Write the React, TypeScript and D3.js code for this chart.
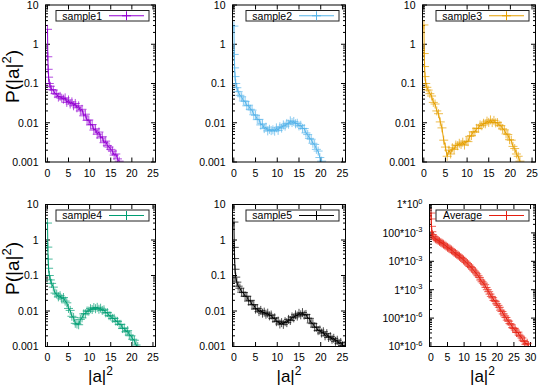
import React from "react";
import * as d3 from "d3";

// |a|^2 bin centres shared by every panel
const grid = [
  0.03, 0.1, 0.18, 0.28, 0.45, 0.7, 1.0, 1.4, 1.8, 2.2, 2.6, 3.0, 3.4, 3.8, 4.2, 4.6,
  5.0, 5.4, 5.8, 6.2, 6.6, 7.0, 7.4, 7.8, 8.2, 8.6, 9.0, 9.4, 9.8, 10.2, 10.6, 11.0,
  11.4, 11.8, 12.2, 12.6, 13.0, 13.4, 13.8, 14.2, 14.6, 15.0, 15.4, 15.8, 16.2, 16.6,
  17.0, 17.4, 17.8, 18.2, 18.6, 19.0, 19.4, 19.8, 20.2, 20.6, 21.0, 21.4, 21.8, 22.2,
  22.6, 23.0, 23.4, 23.8, 24.2, 24.6, 25.0, 25.4, 25.8, 26.2, 26.6, 27.0, 27.4, 27.8,
  28.2, 28.6, 29.0, 29.4,
];

const sample1 = [
  2.4, 0.48, 0.23, 0.145, 0.1, 0.085, 0.07, 0.068, 0.055, 0.054, 0.045, 0.047, 0.042,
  0.04, 0.043, 0.033, 0.038, 0.03, 0.034, 0.027, 0.031, 0.024, 0.027, 0.02, 0.022,
  0.015, 0.0165, 0.0115, 0.0118, 0.0088, 0.009, 0.0065, 0.007, 0.0051, 0.0058, 0.0041,
  0.0044, 0.0031, 0.0034, 0.0026, 0.0024, 0.0021, 0.0019, 0.0015, 0.0016, 0.0012, 0.00105,
];

const sample2 = [
  2.9, 0.55, 0.25, 0.15, 0.1, 0.078, 0.062, 0.05, 0.046, 0.036, 0.035, 0.027, 0.028,
  0.022, 0.021, 0.016, 0.0155, 0.012, 0.0122, 0.0088, 0.0094, 0.0071, 0.0077, 0.0062,
  0.0068, 0.0063, 0.0066, 0.0061, 0.0074, 0.0064, 0.0079, 0.0073, 0.0088, 0.0082, 0.0096,
  0.0092, 0.0112, 0.0101, 0.0108, 0.0094, 0.0097, 0.0083, 0.0086, 0.0072, 0.0071, 0.0055,
  0.005, 0.004, 0.0038, 0.003, 0.0028, 0.0021, 0.0019, 0.0013, 0.00105,
];

const sample3 = [
  3.1, 0.58, 0.27, 0.15, 0.1, 0.08, 0.068, 0.055, 0.048, 0.033, 0.03, 0.02, 0.017,
  0.0105, 0.0074, 0.0036, 0.0024, 0.0014, 0.002, 0.0016, 0.0023, 0.0021, 0.0027, 0.0026,
  0.003, 0.0028, 0.0032, 0.0027, 0.0034, 0.0033, 0.0045, 0.0047, 0.0059, 0.0058, 0.0072,
  0.0072, 0.0088, 0.0084, 0.0097, 0.0094, 0.011, 0.0102, 0.0118, 0.0101, 0.0115, 0.0099,
  0.0101, 0.0087, 0.0084, 0.007, 0.0066, 0.0052, 0.005, 0.0037, 0.0036, 0.0025, 0.0022,
  0.0016, 0.0014, 0.00105,
];

const sample4 = [
  3.0, 0.63, 0.29, 0.16, 0.1, 0.075, 0.06, 0.047, 0.032, 0.03, 0.025, 0.027, 0.022,
  0.024, 0.019, 0.017, 0.0118, 0.0104, 0.0071, 0.0066, 0.0045, 0.0043, 0.0041, 0.0058,
  0.0064, 0.0083, 0.0084, 0.01, 0.0099, 0.0116, 0.011, 0.0125, 0.0116, 0.0127, 0.0112,
  0.012, 0.0104, 0.0108, 0.0089, 0.009, 0.0074, 0.0072, 0.0062, 0.0062, 0.0052, 0.0051,
  0.0042, 0.0042, 0.0032, 0.0033, 0.0026, 0.0028, 0.0021, 0.002, 0.0016, 0.0015, 0.0011,
  0.001,
];

const sample5 = [
  3.2, 0.62, 0.3, 0.15, 0.09, 0.065, 0.05, 0.044, 0.034, 0.033, 0.026, 0.026, 0.019,
  0.02, 0.015, 0.015, 0.0113, 0.0117, 0.0096, 0.0104, 0.0087, 0.0093, 0.0081, 0.0087,
  0.0073, 0.0077, 0.0062, 0.0064, 0.005, 0.0052, 0.0043, 0.0047, 0.0042, 0.005, 0.0047,
  0.0058, 0.0054, 0.0068, 0.0064, 0.0078, 0.0072, 0.0086, 0.0078, 0.009, 0.0077, 0.008,
  0.0063, 0.0062, 0.0046, 0.0044, 0.0035, 0.0035, 0.0028, 0.0029, 0.0024, 0.0026, 0.002,
  0.0023, 0.0018, 0.0019, 0.0016, 0.0017, 0.0014, 0.0015, 0.0012, 0.0013, 0.00105, 0.00105,
];

const average = [
  0.5, 0.31, 0.17, 0.11, 0.087, 0.075, 0.067, 0.062, 0.058, 0.054, 0.05, 0.046, 0.043,
  0.04, 0.037, 0.034, 0.031, 0.029, 0.027, 0.025, 0.023, 0.0205, 0.019, 0.0175, 0.0162,
  0.015, 0.0136, 0.0124, 0.0112, 0.0102, 0.0092, 0.0082, 0.0074, 0.0066, 0.006, 0.0053,
  0.0046, 0.0041, 0.0036, 0.0031, 0.0027, 0.0022, 0.0019, 0.0017, 0.0015, 0.0012, 0.001,
  0.00085, 0.0007, 0.00058, 0.00052, 0.00042, 0.00039, 0.00032, 0.00028, 0.00024,
  0.00019, 0.00017, 0.00014, 0.00012, 0.000105, 0.000085, 0.000078, 0.000064, 0.000058,
  0.000046, 0.000043, 0.000038, 0.000031, 0.000032, 0.000025, 0.000023, 0.00002,
  0.000016, 0.000015, 0.000012, 0.000013, 0.00001,
];

const sampleXTicks = [0, 5, 10, 15, 20, 25];
const averageXTicks = [0, 5, 10, 15, 20, 25, 30];

const FONT = "'Liberation Sans', Arial, sans-serif";

type Panel = {
  name: string;
  color: string;
  values: number[];
  left: number;
  right: number;
  top: number;
  bottom: number;
  xDomain: [number, number];
  xTicks: number[];
  yDomain: [number, number];
  sci: boolean;
  yLabel: boolean;
  xLabel: boolean;
};

const panels: Panel[] = [
  { name: "sample1", color: "#9400d3", values: sample1, left: 45.5, right: 155.5, top: 5, bottom: 162, xDomain: [-0.45, 25.6], xTicks: sampleXTicks, yDomain: [0.001, 10], sci: false, yLabel: true, xLabel: false },
  { name: "sample2", color: "#56b4e9", values: sample2, left: 232.5, right: 345.5, top: 5, bottom: 162, xDomain: [-0.3, 25.7], xTicks: sampleXTicks, yDomain: [0.001, 10], sci: false, yLabel: false, xLabel: false },
  { name: "sample3", color: "#e69f00", values: sample3, left: 422.5, right: 535.5, top: 5, bottom: 162, xDomain: [-0.3, 25.8], xTicks: sampleXTicks, yDomain: [0.001, 10], sci: false, yLabel: false, xLabel: false },
  { name: "sample4", color: "#009e73", values: sample4, left: 45.5, right: 155.5, top: 204.5, bottom: 346.5, xDomain: [-0.45, 25.6], xTicks: sampleXTicks, yDomain: [0.001, 10], sci: false, yLabel: true, xLabel: true },
  { name: "sample5", color: "#000000", values: sample5, left: 232.5, right: 345.5, top: 204.5, bottom: 346.5, xDomain: [-0.3, 25.7], xTicks: sampleXTicks, yDomain: [0.001, 10], sci: false, yLabel: false, xLabel: true },
  { name: "Average", color: "#e51e10", values: average, left: 429.5, right: 535.5, top: 204.5, bottom: 346.5, xDomain: [-0.42, 31.5], xTicks: averageXTicks, yDomain: [0.00001, 1], sci: true, yLabel: false, xLabel: true },
];

function decades(domain: [number, number]) {
  const lo = Math.round(Math.log10(domain[0]));
  const hi = Math.round(Math.log10(domain[1]));
  const major: number[] = [];
  const minor: number[] = [];
  for (let e = lo; e <= hi; e++) {
    major.push(Math.pow(10, e));
    if (e < hi) for (let k = 2; k <= 9; k++) minor.push(k * Math.pow(10, e));
  }
  return { major, minor };
}

function plainLabel(v: number) {
  return v >= 1 ? String(v) : v.toFixed(Math.round(-Math.log10(v)));
}

function PanelView({ p, idx }: { p: Panel; idx: number }) {
  const x = d3.scaleLinear().domain(p.xDomain).range([p.left, p.right]);
  const y = d3.scaleLog().domain(p.yDomain).range([p.bottom, p.top]);
  const pts = p.values.map((v, i) => [grid[i], v] as [number, number]);
  const line = d3.line<[number, number]>().x((d) => x(d[0])).y((d) => y(d[1]));
  const { major, minor } = decades(p.yDomain);
  const majLen = 4.5;
  const minLen = 2.5;
  const boxR = p.right - 6.5;
  const boxW = 93;
  const boxH = p.top < 100 ? 10.5 : 11;
  const boxT = p.top + 5.5;
  const midY = boxT + boxH / 2;
  const clipId = `clip${idx}`;
  const cross = (cx: number, cy: number) => `M${cx - 4.5},${cy}h9M${cx},${cy - 4.5}v9`;

  return (
    <g>
      <defs>
        <clipPath id={clipId}>
          <rect x={p.left} y={p.top} width={p.right - p.left} height={p.bottom - p.top} />
        </clipPath>
      </defs>
      {/* y ticks */}
      {major.map((v) => (
        <g key={"ym" + v}>
          <line x1={p.left} x2={p.left + majLen} y1={y(v)} y2={y(v)} stroke="#000" />
          <line x1={p.right} x2={p.right - majLen} y1={y(v)} y2={y(v)} stroke="#000" />
          <text x={p.left - 7} y={y(v) + 3.8} textAnchor="end" fontSize={10.5} fontFamily={FONT}>
            {p.sci ? (
              <>
                {`${Math.round(v / Math.pow(10, Math.floor(Math.round(Math.log10(v)) / 3) * 3))}*10`}
                <tspan fontSize={7.5} dy={-4.5}>
                  {String(Math.floor(Math.round(Math.log10(v)) / 3) * 3)}
                </tspan>
              </>
            ) : (
              plainLabel(v)
            )}
          </text>
        </g>
      ))}
      {minor.map((v) => (
        <g key={"yn" + v}>
          <line x1={p.left} x2={p.left + minLen} y1={y(v)} y2={y(v)} stroke="#000" />
          <line x1={p.right} x2={p.right - minLen} y1={y(v)} y2={y(v)} stroke="#000" />
        </g>
      ))}
      {/* x ticks */}
      {p.xTicks.map((t) => (
        <g key={"x" + t}>
          <line x1={x(t)} x2={x(t)} y1={p.bottom} y2={p.bottom - majLen} stroke="#000" />
          <line x1={x(t)} x2={x(t)} y1={p.top} y2={p.top + majLen} stroke="#000" />
          <text x={x(t)} y={p.bottom + 14.5} textAnchor="middle" fontSize={10.5} fontFamily={FONT}>
            {t}
          </text>
        </g>
      ))}
      {/* data */}
      <g clipPath={`url(#${clipId})`}>
        <path d={line(pts) || ""} fill="none" stroke={p.color} strokeWidth={1} />
        <path d={pts.map((d) => cross(x(d[0]), y(d[1]))).join("")} fill="none" stroke={p.color} strokeWidth={1} strokeOpacity={0.7} />
      </g>
      {/* legend */}
      <rect x={boxR - boxW} y={boxT} width={boxW} height={boxH} fill="#fff" stroke="#222" strokeWidth={1} />
      <text x={boxR - 47} y={midY + 3.8} textAnchor="end" fontSize={10.5} fontFamily={FONT}>
        {p.name}
      </text>
      <line x1={boxR - 40} x2={boxR - 5} y1={midY} y2={midY} stroke={p.color} />
      <path d={cross(boxR - 22.5, midY)} stroke={p.color} fill="none" />
      {/* frame */}
      <rect x={p.left} y={p.top} width={p.right - p.left} height={p.bottom - p.top} fill="none" stroke="#000" strokeWidth={1} />
      {p.yLabel && (
        <text
          transform={`translate(19,${(p.top + p.bottom) / 2 - 7}) rotate(-90)`}
          textAnchor="middle"
          fontSize={19}
          fontFamily={FONT}
        >
          P(|a|
          <tspan fontSize={13} dy={-8}>2</tspan>
          <tspan dy={8}>)</tspan>
        </text>
      )}
      {p.xLabel && (
        <text x={(p.left + p.right) / 2} y={382} textAnchor="middle" fontSize={17} fontFamily={FONT}>
          |a|
          <tspan fontSize={12} dy={-7}>2</tspan>
        </text>
      )}
    </g>
  );
}

export default function App() {
  return (
    <svg
      width={540}
      height={386}
      style={{ position: "absolute", left: 0, top: 0, background: "#fff" }}
    >
      {panels.map((p, i) => (
        <PanelView key={p.name} p={p} idx={i} />
      ))}
    </svg>
  );
}
